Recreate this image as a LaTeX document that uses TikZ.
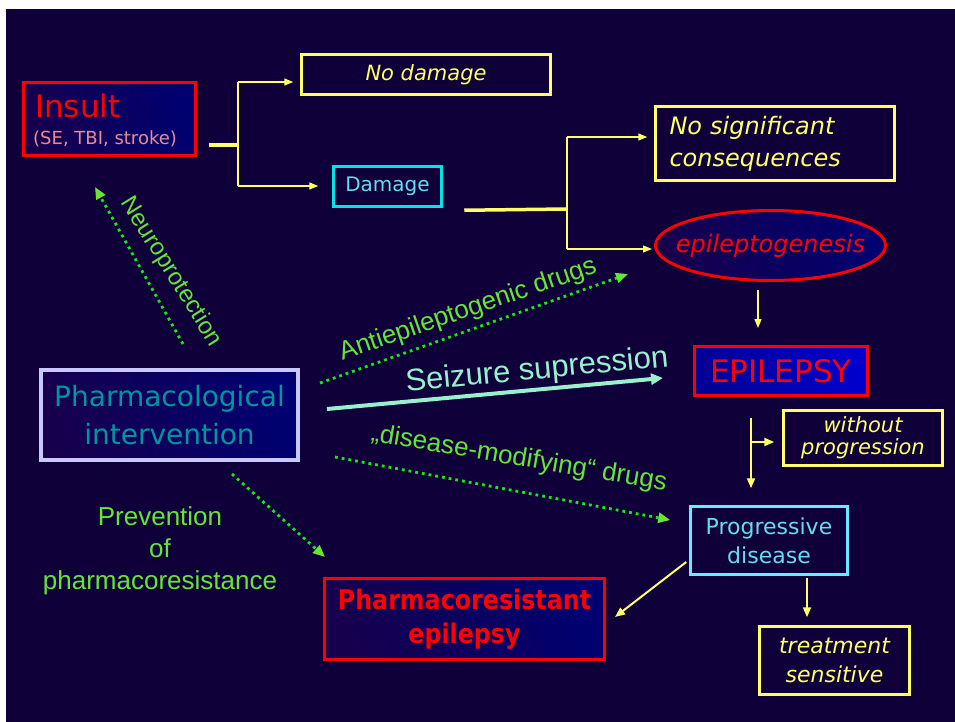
\documentclass[tikz,border=0pt]{standalone}
\usepackage{fontspec}
\setmainfont{DejaVu Sans}[ItalicFont={DejaVu Sans Oblique},BoldFont={DejaVu Sans Bold},BoldItalicFont={DejaVu Sans Bold Oblique}]
\newfontfamily\arialf{Liberation Sans}
\newfontfamily\condb{DejaVu Sans Bold}[FakeStretch=0.88]
\usetikzlibrary{arrows.meta,calc,shapes.geometric}
\definecolor{bg}{RGB}{16,0,58}
\definecolor{yel}{RGB}{255,255,102}
\definecolor{redc}{RGB}{255,0,0}
\definecolor{cyanb}{RGB}{0,230,230}
\definecolor{cyant}{RGB}{102,220,240}
\definecolor{cyanb2}{RGB}{102,235,255}
\definecolor{grt}{RGB}{102,230,51}
\definecolor{grd}{RGB}{20,235,20}
\definecolor{mint}{RGB}{153,240,204}
\definecolor{tealc}{RGB}{0,150,160}
\definecolor{lav}{RGB}{200,200,255}
\definecolor{pinkc}{RGB}{230,140,150}
\definecolor{gA}{RGB}{22,0,78}
\definecolor{gB}{RGB}{0,0,112}
\definecolor{eA}{RGB}{0,0,150}
\definecolor{eB}{RGB}{0,0,205}
\tikzset{
  txt/.style={inner sep=0pt},
  gfill/.style={left color=gA, right color=gB, shading angle=110},
  efill/.style={left color=eA, right color=eB, shading angle=110},
  rbox/.style={draw=redc, line width=3pt, inner sep=0pt},
  ybox/.style={draw=yel, line width=2.5pt, inner sep=0pt, text=yel},
  cbox/.style={draw=cyanb, line width=2.5pt, inner sep=0pt, text=cyant},
  yarr/.style={draw=yel, line width=1.3pt, -{Triangle[length=9pt,width=7pt]}},
  yarr2/.style={draw=yel, line width=2pt, -{Triangle[length=10pt,width=8pt]}},
  ymid/.style={draw=yel, line width=2.2pt},
  ythick/.style={draw=yel, line width=3.5pt},
  gdot/.style={draw=grd, line width=2.8pt, dash pattern=on 2.8pt off 4pt, -{Triangle[length=12pt,width=10pt,color=grt]}},
  sarr/.style={draw=mint, line width=4pt, -{Triangle[length=12pt,width=11pt]}},
  glab/.style={inner sep=0pt, text=grt, font=\arialf\fontsize{26}{26}\selectfont}
}
\begin{document}
\begin{tikzpicture}[x=1pt,y=-1pt]
\useasboundingbox (0,0) rectangle (955,722);
\fill[white] (0,0) rectangle (955,722);
\fill[bg] (6,9) rectangle (955,722);

% boxes
\node[rbox, gfill, minimum width=172pt, minimum height=73pt] (insult) at (109.5,119) {};
\node[txt, anchor=base west, text=redc, font=\fontsize{31}{31}\selectfont] (insultT) at (35,118) {Insult};
\node[txt, anchor=base west, text=pinkc, font=\fontsize{18}{18}\selectfont] (insultS) at (33,145) {(SE, TBI, stroke)};

\node[ybox, minimum width=249pt, minimum height=40pt, font=\itshape\fontsize{21}{21}\selectfont] (nodamage) at (426,74.5) {No damage};
\node[cbox, minimum width=108pt, minimum height=40pt, font=\fontsize{20}{20}\selectfont] (damage) at (387.5,186.5) {Damage};

\node[ybox, minimum width=239pt, minimum height=74pt, inner xsep=14pt, text width=211pt, align=left, font=\itshape\fontsize{24}{32}\selectfont] (nosig) at (775,143.5) {No significant\\consequences};

\node[ellipse, draw=redc, line width=3pt, gfill, minimum width=230pt, minimum height=70pt, inner sep=0pt] (epi) at (770.5,245.5) {};
\node[txt, text=redc, font=\itshape\fontsize{24}{24}\selectfont] (epiT) at (epi.center) {epileptogenesis};

\node[rbox, efill, minimum width=173pt, minimum height=49pt, text=redc, font=\fontsize{31}{31}\selectfont] (epilepsy) at (781,371) {EPILEPSY};

\node[ybox, minimum width=159pt, minimum height=55pt, align=center, font=\itshape\fontsize{21}{22}\selectfont] (without) at (863,438) {without\\progression};

\node[draw=cyanb2, line width=2.5pt, inner sep=0pt, text=cyant, minimum width=157pt, minimum height=68pt, align=center, font=\fontsize{22}{29}\selectfont] (progressive) at (769,540.5) {Progressive\\disease};

\node[ybox, minimum width=150pt, minimum height=68pt, align=center, font=\itshape\fontsize{22}{29}\selectfont] (treatment) at (834.5,660.5) {treatment\\sensitive};

\node[rbox, gfill, minimum width=280pt, minimum height=81pt, text=redc, align=center, font=\condb\fontsize{27}{34}\selectfont] (pharmaco) at (464.5,619) {Pharmacoresistant\\epilepsy};

\node[draw=lav, line width=4pt, gfill, inner sep=0pt, minimum width=257pt, minimum height=90pt, text=tealc, align=center, font=\fontsize{28}{38}\selectfont] (pharm) at (169.5,415) {Pharmacological\\intervention};

% labels
\node[glab, rotate=-58, font=\arialf\fontsize{24}{24}\selectfont] (neuroT) at (171,272) {Neuroprotection};
\node[glab, rotate=19] (antiT) at (468,310) {Antiepileptogenic drugs};
\node[txt, rotate=5.5, text=mint, font=\arialf\fontsize{31}{31}\selectfont] (seizT) at (537,371) {Seizure supression};
\node[glab, rotate=-9.5] (dmT) at (519,459) {„disease-modifying“ drugs};
\node[glab, align=center, font=\arialf\fontsize{26}{32}\selectfont] (prevT) at (160,551) {Prevention\\of\\pharmacoresistance};

% yellow brackets
\coordinate (j1) at (238,145);
\coordinate (j1a) at (238,82);
\coordinate (j1b) at (238,186);
\draw[ythick] ($(insult.east)+(11.5,26)$) -- (j1);
\draw[ymid] (j1a) -- (j1b);
\draw[yarr] (j1a) -- ($(j1a -| nodamage.west)+(-7,0)$);
\draw[yarr] (j1b) -- ($(j1b -| damage.west)+(-14,0)$);

\coordinate (j2) at (567,209);
\coordinate (j2a) at (567,137);
\coordinate (j2b) at (567,249);
\draw[ythick] ($(damage.south east)+(21.5,2.5)$) -- (j2);
\draw[ymid] (j2a) -- (j2b);
\draw[yarr] (j2a) -- ($(j2a -| nosig.west)+(-7,0)$);
\draw[yarr] (j2b) -- ($(j2b -| epi.west)+(-2,0)$);

\draw[yarr] ($(epi.south)+(-12.5,8)$) -- ($(epilepsy.north)+(-23,-17)$);

\coordinate (j3) at (751,442);
\draw[yarr2] ($(epilepsy.south)+(-30,21)$) -- ($(progressive.north)+(-18,-17)$);
\draw[yarr2] (j3) -- ($(j3 -| without.west)+(-8,0)$);

\draw[yarr2] ($(progressive.west)+(-3,21.5)$) -- ($(pharmaco.east)+(9,-2)$);
\draw[yarr2] ($(progressive.south)+(38,2)$) -- ($(treatment.north)+(-27.5,-8)$);

% green dotted arrows
\draw[gdot] ($(pharm.north)+(13.5,-24)$) -- ($(insult.south)+(-14.5,30)$);
\draw[gdot] ($(pharm.east)+(20,-32)$) -- ($(epi.west)+(-26,28.5)$);
\draw[gdot] ($(pharm.east)+(35,42)$) -- ($(progressive.west)+(-19,-20.5)$);
\draw[gdot] ($(pharm.south)+(62.5,12)$) -- ($(pharmaco.north)+(-139.5,-20)$);

% seizure suppression
\draw[sarr] ($(pharm.east)+(27,-6)$) -- ($(epilepsy.west)+(-30,7)$);
\end{tikzpicture}
\end{document}
